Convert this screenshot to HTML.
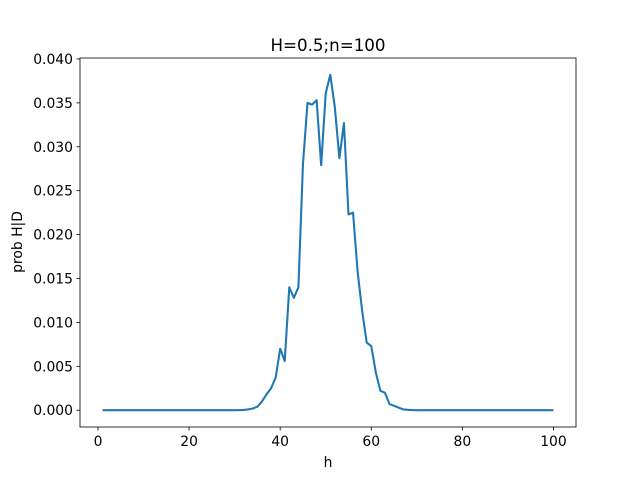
<!DOCTYPE html>
<html><head><meta charset="utf-8"><style>
body{margin:0;background:#fff}
svg text{font-family:"DejaVu Sans","Liberation Sans",sans-serif;font-size:13.9px;fill:#000}
</style></head><body>
<svg id="chart" width="640" height="480" xmlns="http://www.w3.org/2000/svg">
<rect width="640" height="480" fill="#fff"/>
<text x="328" y="51" text-anchor="middle" style="font-size:16.7px">H=0.5;n=100</text>
<g id="plot"></g>
<rect x="80" y="58" width="496" height="369" fill="none" stroke="#000" stroke-width="0.8"/>
<text x="328" y="467" text-anchor="middle">h</text>
<text x="22" y="242" text-anchor="middle" transform="rotate(-90 22 242)">prob H|D</text>
</svg>
<script>
const xs = [];
for (let i = 1; i <= 100; i++) xs.push(i);
const peakStart = 30;
const peakValues = [0,0.00001,0.00003,0.0001,0.0002,0.0004,0.001,0.0018,0.0025,0.0037,0.007,0.0056,0.014,0.0128,0.014,0.028,0.035,0.0348,0.0353,0.0279,0.0361,0.0382,0.0345,0.0287,0.0327,0.0223,0.0225,0.0158,0.0113,0.0077,0.0073,0.0043,0.0022,0.002,0.0007,0.0005,0.0003,0.0001,0.00005,0.00002];
const xTicks = [0,20,40,60,80,100];
const yTicks = [0,0.005,0.010,0.015,0.020,0.025,0.030,0.035,0.040];
const yTickLabels = ["0.000","0.005","0.010","0.015","0.020","0.025","0.030","0.035","0.040"];

const ys = xs.map(h => (h >= peakStart && h < peakStart + peakValues.length) ? peakValues[h - peakStart] : 0);
const L=80,R=576,T=58,B=427;
const xmin=1,xmax=100,xm=(xmax-xmin)*0.05;
const ymax=Math.max(...ys),ym=ymax*0.05;
const sx=v=>L+(v-(xmin-xm))/((xmax+xm)-(xmin-xm))*(R-L);
const sy=v=>B-(v+ym)/(ymax+2*ym)*(B-T);
const NS="http://www.w3.org/2000/svg";
const g=document.getElementById('plot');
function mk(t,a){const e=document.createElementNS(NS,t);for(const k in a)e.setAttribute(k,a[k]);g.appendChild(e);return e;}
xTicks.forEach(v=>{
  const l=mk('line',{x1:sx(v),x2:sx(v),y1:B,y2:B+3.5,stroke:'#000','stroke-width':0.8});
  
  
  const t=mk('text',{x:sx(v),y:B+19,'text-anchor':'middle'});t.textContent=v;
  
  
});
yTicks.forEach((v,i)=>{
  const l=mk('line',{x1:L-3.5,x2:L,y1:sy(v),y2:sy(v),stroke:'#000','stroke-width':0.8});
  
  
  const t=mk('text',{x:L-7,y:sy(v)+5,'text-anchor':'end'});t.textContent=yTickLabels[i];
  
  
});
const p=mk('polyline',{points:xs.map((x,i)=>sx(x)+','+sy(ys[i])).join(' '),fill:'none',stroke:'#1f77b4','stroke-width':2.08,'stroke-linejoin':'round'});


</script>
</body></html>
